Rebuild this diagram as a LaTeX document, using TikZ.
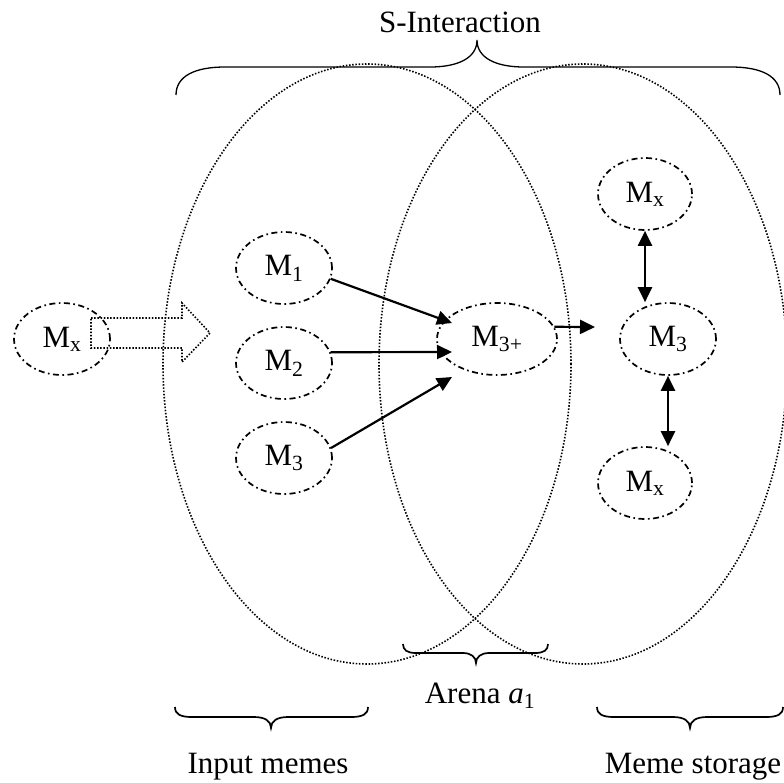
\documentclass[tikz,border=0pt]{standalone}
\usepackage{fontspec}
\setmainfont{Liberation Serif}
\usetikzlibrary{shapes.geometric,arrows.meta}
\begin{document}
\begin{tikzpicture}[x=1pt,y=-1pt,
  meme/.style={ellipse,draw,line width=1.7pt,
    dash pattern=on 6pt off 3.5pt on 1.6pt off 3.5pt,
    minimum width=96pt,minimum height=72pt,inner sep=0pt,
    font=\fontsize{31}{34}\selectfont},
  region/.style={line width=1.6pt,dash pattern=on 1.5pt off 1.7pt},
  link/.style={line width=2.2pt,-{Triangle[length=15pt,width=14pt]}},
  duplex/.style={line width=2.2pt,
    {Triangle[length=15pt,width=14pt]}-{Triangle[length=15pt,width=14pt]}},
  brace/.style={line width=1.7pt},
  caption/.style={anchor=base,inner sep=0pt,font=\fontsize{31}{35}\selectfont}]
\useasboundingbox (0,0) rectangle (784,782);

% the two overlapping regions
\draw[region] (367,364) ellipse [x radius=204pt, y radius=300pt];
\draw[region] (583,364) ellipse [x radius=204pt, y radius=300pt];

% memes
\node[meme] (Min) at (62,339) {M\textsubscript{x}};
\node[meme] (M1) at (284,268) {M\textsubscript{1}};
\node[meme] (M2) at (284,363) {M\textsubscript{2}};
\node[meme] (M3) at (284,458) {M\textsubscript{3}};
\node[meme,minimum width=120pt] (M3p) at (497,339) {M\textsubscript{3+}};
\node[meme] (S3) at (668,339) {M\textsubscript{3}};
\node[meme,minimum width=94pt] (Sup) at (645,194) {M\textsubscript{x}};
\node[meme,minimum width=94pt] (Sdn) at (645,483) {M\textsubscript{x}};

% hollow input arrow
\draw[region] (91,318) -- (182,318) -- (182,303) -- (210,333)
  -- (182,362) -- (182,348) -- (91,348) -- cycle;

% combination arrows
\coordinate (t1) at (452,323);
\coordinate (t2) at (452,352);
\coordinate (t3) at (452,377);
\coordinate (store) at (595,327);
\draw[link] (M1.-13) -- (t1);
\draw[link] (M2.13) -- (t2);
\draw[link] (M3.12) -- (t3);
\draw[link] (M3p.12) -- (store);
\draw[duplex] (Sup.south) -- (Sup.south |- S3.north);
\draw[duplex] (S3.south) -- (S3.south |- Sdn.north);

% braces
\draw[brace,line width=1.3pt] (176,95) .. controls (176,76) and (195,67) .. (225,67)
  -- (430,67) .. controls (458,67) and (477,58) .. (477,40)
  .. controls (477,58) and (496,67) .. (524,67)
  -- (731,67) .. controls (761,67) and (780,76) .. (780,95);
\draw[brace] (175,707) .. controls (175,714) and (180,717) .. (192,717)
  -- (254,717) .. controls (265,717) and (271,721) .. (271,728)
  .. controls (271,721) and (277,717) .. (288,717)
  -- (351,717) .. controls (363,717) and (368,714) .. (368,707);
\draw[brace] (597,707) .. controls (597,714) and (602,717) .. (614,717)
  -- (673,717) .. controls (684,717) and (690,721) .. (690,728)
  .. controls (690,721) and (696,717) .. (707,717)
  -- (766,717) .. controls (778,717) and (783,714) .. (783,707);
\draw[brace] (403,644) .. controls (403,650) and (407,653) .. (416,653)
  -- (463,653) .. controls (471,653) and (476,657) .. (476,663)
  .. controls (476,657) and (481,653) .. (489,653)
  -- (535,653) .. controls (544,653) and (548,650) .. (548,644);

% captions
\node[caption] (top) at (460,32) {S-Interaction};
\node[caption] (arena) at (480,703) {Arena \textit{a}\textsubscript{1}};
\node[caption] (inp) at (268,773) {Input memes};
\node[caption] (sto) at (693,773) {Meme storage};
\end{tikzpicture}
\end{document}
